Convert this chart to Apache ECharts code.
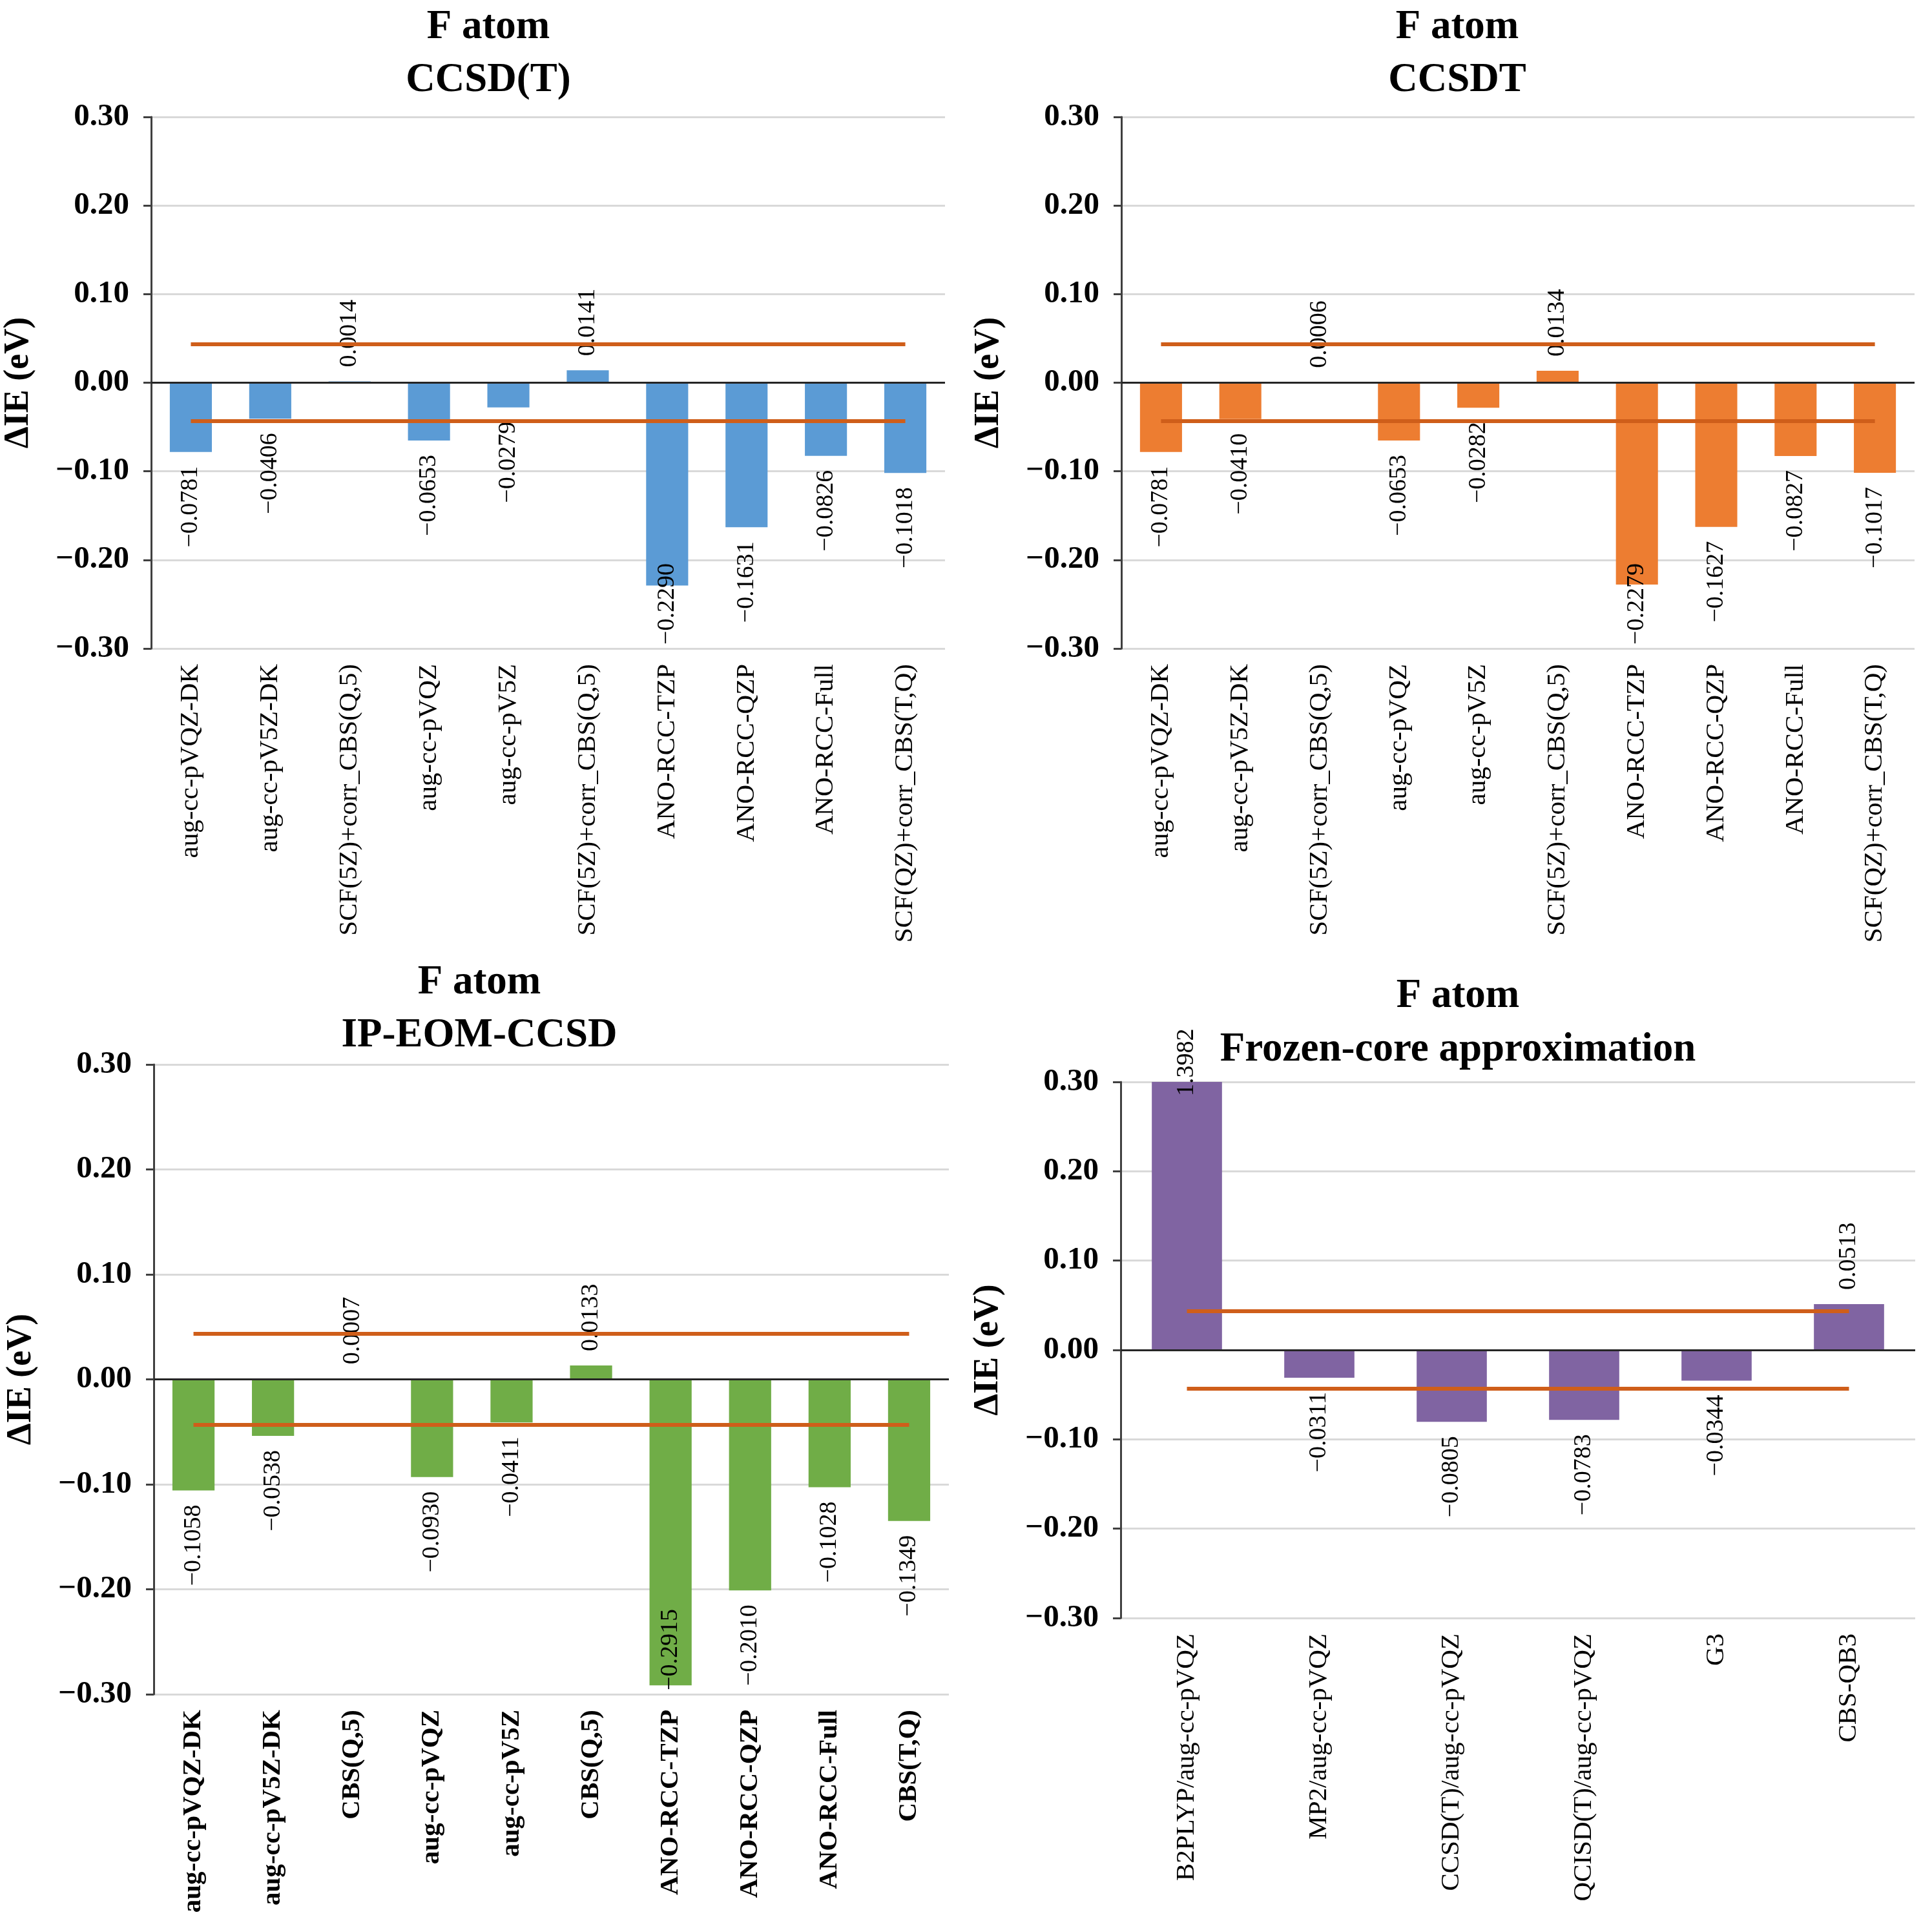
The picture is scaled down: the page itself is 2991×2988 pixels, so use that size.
<!DOCTYPE html>
<html>
<head>
<meta charset="utf-8">
<script src="https://cdn.jsdelivr.net/npm/echarts@6.0.0/dist/echarts.min.js"></script>
<style>
  html, body { margin: 0; padding: 0; background: #fff; }
  #chart { width: 2991px; height: 2988px; }
</style>
</head>
<body>
<div id="chart"></div>
<script>
// categories
const catsCCSD = ["aug-cc-pVQZ-DK", "aug-cc-pV5Z-DK", "SCF(5Z)+corr_CBS(Q,5)", "aug-cc-pVQZ", "aug-cc-pV5Z",
  "SCF(5Z)+corr_CBS(Q,5)", "ANO-RCC-TZP", "ANO-RCC-QZP", "ANO-RCC-Full", "SCF(QZ)+corr_CBS(T,Q)"]
const catsEOM = ["aug-cc-pVQZ-DK", "aug-cc-pV5Z-DK", "CBS(Q,5)", "aug-cc-pVQZ", "aug-cc-pV5Z",
  "CBS(Q,5)", "ANO-RCC-TZP", "ANO-RCC-QZP", "ANO-RCC-Full", "CBS(T,Q)"]
const catsFrozen = ["B2PLYP/aug-cc-pVQZ", "MP2/aug-cc-pVQZ", "CCSD(T)/aug-cc-pVQZ", "QCISD(T)/aug-cc-pVQZ", "G3", "CBS-QB3"]

// ΔIE values (eV)
const ccsdT = [-0.0781, -0.0406, 0.0014, -0.0653, -0.0279, 0.0141, -0.2290, -0.1631, -0.0826, -0.1018]
const ccsdt = [-0.0781, -0.0410, 0.0006, -0.0653, -0.0282, 0.0134, -0.2279, -0.1627, -0.0827, -0.1017]
const ipEom = [-0.1058, -0.0538, 0.0007, -0.0930, -0.0411, 0.0133, -0.2915, -0.2010, -0.1028, -0.1349]
const frozen = [1.3982, -0.0311, -0.0805, -0.0783, -0.0344, 0.0513]

// chemical accuracy band, 1 kcal/mol in eV
const accuracy = 0.0434
const yTicks = [-0.3, -0.2, -0.1, 0, 0.1, 0.2, 0.3]

const SERIF = '"Liberation Serif", "Times New Roman", serif'
const ORANGE_LINE = "#CF5E1A"

const panels = [
  { title: ["F atom", "CCSD(T)"], cats: catsCCSD, data: ccsdT, color: "#5B9BD5",
    grid: { left: 234, top: 181, width: 1229, height: 823 }, titleX: 756, titleY: [43, 125], bold: false },
  { title: ["F atom", "CCSDT"], cats: catsCCSD, data: ccsdt, color: "#ED7D31",
    grid: { left: 1736, top: 181, width: 1228, height: 823 }, titleX: 2256, titleY: [43, 125], bold: false },
  { title: ["F atom", "IP-EOM-CCSD"], cats: catsEOM, data: ipEom, color: "#70AD47",
    grid: { left: 238, top: 1648, width: 1231, height: 975 }, titleX: 742, titleY: [1522, 1604], bold: true },
  { title: ["F atom", "Frozen-core approximation"], cats: catsFrozen, data: frozen, color: "#8064A2",
    grid: { left: 1735, top: 1675, width: 1230, height: 830 }, titleX: 2257, titleY: [1543, 1626], bold: false }
]

const yMin = yTicks[0]
const yMax = yTicks[yTicks.length - 1]

const measure = document.createElement("canvas").getContext("2d")
measure.font = "38px " + SERIF

function fmt(v, digits) {
  const s = Math.abs(v).toFixed(digits)
  return v < 0 ? "\u2212" + s : s
}

// place the rotated value labels roughly like the spreadsheet did
function valueLabel(v, p) {
  const ppu = p.grid.height / (yMax - yMin)
  const len = measure.measureText(fmt(v, 4)).width
  const gap = 22
  if (v > yMax) {
    return { position: "insideTop", align: "left", distance: 22 }
  }
  if (v >= 0) {
    return { position: "top", align: "left", distance: gap }
  }
  const room = (v - yMin) * ppu
  if (gap + len > room - 6) {
    return { position: "bottom", align: "left", distance: room - 6 }
  }
  return { position: "bottom", align: "right", distance: gap }
}

function init() {
  const chart = echarts.init(document.getElementById("chart"))

  const grids = [], xAxes = [], yAxes = [], series = [], graphics = []

  panels.forEach((p, i) => {
    grids.push(Object.assign({ containLabel: false }, p.grid))

    xAxes.push({
      type: "category",
      gridIndex: i,
      data: p.cats,
      axisLine: { show: false },
      axisTick: { show: false },
      axisLabel: {
        interval: 0,
        rotate: 90,
        margin: 24,
        color: "#000",
        fontFamily: SERIF,
        fontSize: 41,
        fontWeight: p.bold ? "bold" : "normal"
      }
    })

    yAxes.push({
      type: "value",
      gridIndex: i,
      min: yMin,
      max: yMax,
      interval: 0.1,
      name: "\u0394IE (eV)",
      nameLocation: "middle",
      nameGap: 178,
      nameTextStyle: { color: "#000", fontFamily: SERIF, fontSize: 54, fontWeight: "bold" },
      axisLine: { show: true, lineStyle: { color: "#404040", width: 3 } },
      axisTick: { show: true, length: 12, lineStyle: { color: "#404040", width: 3 } },
      splitLine: { show: true, lineStyle: { color: "#D9D9D9", width: 3 } },
      axisLabel: {
        margin: 34,
        color: "#000",
        fontFamily: SERIF,
        fontSize: 49,
        fontWeight: "bold",
        formatter: v => fmt(v, 2)
      }
    })

    const first = p.cats[0]
    const last = p.cats[p.cats.length - 1]
    const bandStyle = { color: ORANGE_LINE, width: 6, type: "solid" }

    series.push({
      type: "bar",
      xAxisIndex: i,
      yAxisIndex: i,
      barWidth: "53%",
      clip: true,
      itemStyle: { color: p.color },
      data: p.data.map(v => ({
        value: v,
        label: Object.assign({
          show: true,
          rotate: 90,
          verticalAlign: "middle",
          color: "#000",
          fontFamily: SERIF,
          fontSize: 38,
          formatter: () => fmt(v, 4)
        }, valueLabel(v, p))
      })),
      markLine: {
        silent: true,
        symbol: ["none", "none"],
        animation: false,
        label: { show: false },
        data: [
          { yAxis: 0, lineStyle: { color: "#262626", width: 3, type: "solid" } },
          [{ coord: [first, accuracy], lineStyle: bandStyle }, { coord: [last, accuracy] }],
          [{ coord: [first, -accuracy], lineStyle: bandStyle }, { coord: [last, -accuracy] }]
        ]
      }
    })

    p.title.forEach((t, k) => {
      graphics.push({
        type: "text",
        x: p.titleX,
        y: p.titleY[k],
        style: {
          text: t,
          textAlign: "center",
          textVerticalAlign: "middle",
          font: "bold 63px " + SERIF,
          fill: "#000"
        }
      })
    })
  })

  const option = {
    animation: false,
    backgroundColor: "#fff",
    grid: grids,
    xAxis: xAxes,
    yAxis: yAxes,
    series: series,
    graphic: graphics
  }

  chart.setOption(option)
}

init()
</script>
</body>
</html>
